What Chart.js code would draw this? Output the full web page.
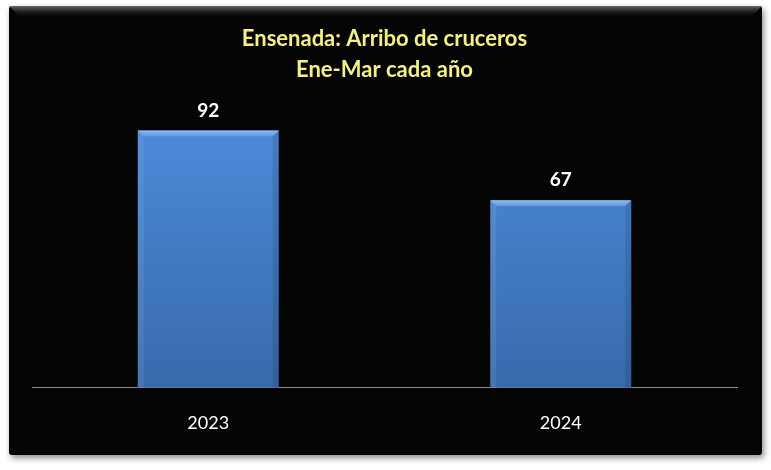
<!DOCTYPE html>
<html>
<head>
<meta charset="utf-8">
<script src="https://cdn.jsdelivr.net/npm/chart.js@4"></script>
<style>
  html, body { margin: 0; padding: 0; background: #fff; }
  #wrap { width: 771px; height: 470px; }
</style>
</head>
<body>
<div id="wrap"><canvas id="myChart" width="771" height="470"></canvas></div>
<script>
const years = ["2023", "2024"];
const arrivals = [92, 67];
const titleLines = ["Ensenada: Arribo de cruceros", "Ene-Mar cada año"];

// black panel with the top bevel, drawn behind everything
const panelBg = {
  id: "panelBg",
  beforeDraw(chart) {
    const c = chart.ctx;
    const x0 = 9, y0 = 6, x1 = 762, y1 = 455;
    c.save();
    c.fillStyle = "#fff";
    c.fillRect(0, 0, chart.width, chart.height);
    c.shadowColor = "rgba(0,0,0,0.45)";
    c.shadowBlur = 6;
    c.shadowOffsetX = 2;
    c.shadowOffsetY = 3;
    c.fillStyle = "#050505";
    c.beginPath();
    c.roundRect(x0, y0, x1 - x0, y1 - y0, 3);
    c.fill();
    c.shadowColor = "transparent";
    // top bevel
    const g = c.createLinearGradient(0, y0, 0, y0 + 12);
    g.addColorStop(0, "#6a6a6a");
    g.addColorStop(1, "rgba(5,5,5,0)");
    c.fillStyle = g;
    c.beginPath();
    c.moveTo(x0, y0);
    c.lineTo(x1, y0);
    c.lineTo(x1 - 12, y0 + 12);
    c.lineTo(x0 + 12, y0 + 12);
    c.closePath();
    c.fill();
    c.restore();
  }
};

// bevel on bar tops + value labels
const barExtras = {
  id: "barExtras",
  afterDatasetsDraw(chart) {
    const c = chart.ctx;
    const meta = chart.getDatasetMeta(0);
    c.save();
    meta.data.forEach((bar, i) => {
      const left = bar.x - bar.width / 2;
      const right = bar.x + bar.width / 2;
      const top = bar.y;
      const b = 6;
      const g = c.createLinearGradient(0, top, 0, top + b);
      g.addColorStop(0, "#8cbcf4");
      g.addColorStop(1, "#5a96e0");
      c.fillStyle = g;
      c.beginPath();
      c.moveTo(left, top);
      c.lineTo(right, top);
      c.lineTo(right - b, top + b);
      c.lineTo(left + b, top + b);
      c.closePath();
      c.fill();
      // side shading
      c.fillStyle = "rgba(255,255,255,0.08)";
      c.beginPath();
      c.moveTo(left, top);
      c.lineTo(left + b, top + b);
      c.lineTo(left + b, bar.base);
      c.lineTo(left, bar.base);
      c.closePath();
      c.fill();
      c.fillStyle = "rgba(0,0,0,0.10)";
      c.beginPath();
      c.moveTo(right, top);
      c.lineTo(right - b, top + b);
      c.lineTo(right - b, bar.base);
      c.lineTo(right, bar.base);
      c.closePath();
      c.fill();

      c.fillStyle = "#fff";
      c.font = "bold 19px Lato";
      c.textAlign = "center";
      c.textBaseline = "middle";
      c.fillText(arrivals[i], bar.x, top - 20);
    });
    c.restore();
  }
};

const ctx = document.getElementById("myChart").getContext("2d");
const myChart = new Chart(ctx, {
  type: "bar",
  data: {
    labels: years,
    datasets: [
      {
        data: arrivals,
        backgroundColor: (context) => {
          const area = context.chart.chartArea;
          if (!area) return "#4a86d6";
          const g = context.chart.ctx.createLinearGradient(0, area.top, 0, area.bottom);
          g.addColorStop(0, "#4d8cdc");
          g.addColorStop(1, "#386aab");
          return g;
        },
        borderWidth: 0,
        categoryPercentage: 1,
        barPercentage: 0.4,
      },
    ],
  },
  options: {
    responsive: false,
    animation: false,
    events: [],
    layout: {
      padding: { top: 8, left: 32, right: 34, bottom: 10.6 },
    },
    plugins: {
      legend: { display: false },
      tooltip: { enabled: false },
      title: {
        display: true,
        text: titleLines,
        color: "#f5ef86",
        font: { family: "Lato", size: 22, weight: "bold", lineHeight: 1.4 },
        padding: { top: 16, bottom: 22.4 },
      },
    },
    scales: {
      y: {
        display: false,
        min: 0,
        max: 100,
      },
      x: {
        grid: { display: false, drawTicks: false, tickLength: 0 },
        border: { display: true, color: "#8a8a8a", width: 1 },
        ticks: {
          color: "#fff",
          padding: 25,
          font: { family: "Lato", size: 18 },
        },
      },
    },
  },
  plugins: [panelBg, barExtras],
});
</script>
</body>
</html>
